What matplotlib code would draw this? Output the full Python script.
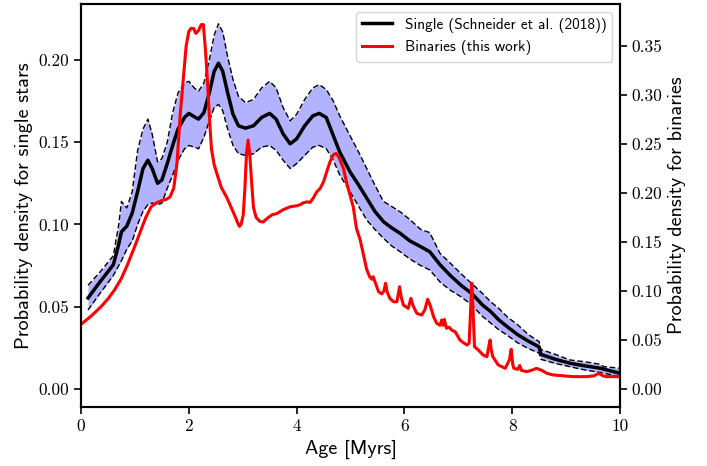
import matplotlib
matplotlib.use("Agg")
import matplotlib.pyplot as plt
import numpy as np

# ---- Single stars (Schneider et al. 2018): age, mean, upper, lower ----
age_single = [0.13, 0.35, 0.60, 0.70, 0.75, 0.85, 0.95, 1.05, 1.15, 1.24, 1.32, 1.42, 1.50,
              1.60, 1.70, 1.80, 1.92, 2.00, 2.10, 2.18, 2.28, 2.38, 2.47, 2.55, 2.63, 2.72,
              2.82, 2.92, 3.05, 3.20, 3.35, 3.50, 3.62, 3.75, 3.88, 4.00, 4.15, 4.30, 4.42,
              4.55, 4.68, 4.80, 4.99, 5.15, 5.30, 5.45, 5.61, 5.76, 5.92, 6.10, 6.30, 6.47,
              6.66, 6.85, 7.05, 7.25, 7.45, 7.60, 7.75, 7.90, 8.10, 8.30, 8.50, 8.53, 8.80,
              9.07, 9.35, 9.63, 9.70, 10.0]
single_mean = [0.0553, 0.065, 0.0755, 0.088, 0.0955, 0.099, 0.107, 0.120, 0.134, 0.139, 0.134,
               0.125, 0.127, 0.137, 0.148, 0.158, 0.165, 0.1675, 0.1655, 0.164, 0.168, 0.180,
               0.193, 0.198, 0.193, 0.180, 0.167, 0.160, 0.1585, 0.160, 0.165, 0.1675, 0.164,
               0.155, 0.149, 0.152, 0.160, 0.166, 0.1675, 0.165, 0.154, 0.144, 0.132, 0.124,
               0.116, 0.108, 0.1017, 0.098, 0.0946, 0.090, 0.0865, 0.0834, 0.0755, 0.069,
               0.063, 0.058, 0.051, 0.047, 0.042, 0.038, 0.033, 0.029, 0.0255, 0.021, 0.018,
               0.0156, 0.014, 0.0126, 0.012, 0.0095]
single_upper = [0.063, 0.071, 0.081, 0.100, 0.114, 0.110, 0.120, 0.145, 0.158, 0.164, 0.155,
                0.138, 0.140, 0.150, 0.168, 0.180, 0.186, 0.187, 0.183, 0.181, 0.186, 0.200,
                0.215, 0.222, 0.217, 0.202, 0.188, 0.178, 0.174, 0.176, 0.183, 0.187, 0.183,
                0.171, 0.163, 0.167, 0.176, 0.183, 0.185, 0.182, 0.175, 0.166, 0.154, 0.144,
                0.134, 0.124, 0.114, 0.111, 0.1077, 0.103, 0.097, 0.0950, 0.0824, 0.0765,
                0.070, 0.064, 0.058, 0.053, 0.049, 0.044, 0.039, 0.033, 0.0287, 0.024, 0.021,
                0.0176, 0.0165, 0.015, 0.0135, 0.0126]
single_lower = [0.048, 0.058, 0.069, 0.075, 0.078, 0.085, 0.090, 0.100, 0.108, 0.112, 0.113,
                0.112, 0.113, 0.122, 0.130, 0.139, 0.146, 0.148, 0.147, 0.146, 0.153, 0.163,
                0.171, 0.173, 0.169, 0.158, 0.148, 0.143, 0.142, 0.143, 0.147, 0.148, 0.145,
                0.139, 0.134, 0.137, 0.142, 0.147, 0.148, 0.146, 0.139, 0.130, 0.120, 0.111,
                0.1027, 0.097, 0.0916, 0.087, 0.0834, 0.079, 0.075, 0.0723, 0.065, 0.060,
                0.056, 0.051, 0.044, 0.040, 0.036, 0.0328, 0.028, 0.0245, 0.0217, 0.018,
                0.0155, 0.0135, 0.0115, 0.0100, 0.0095, 0.0075]

# ---- Binaries (this work) ----
age_bin = [0.0, 0.2, 0.37, 0.5, 0.62, 0.75, 0.87, 1.0, 1.11, 1.2, 1.30, 1.40, 1.48, 1.58, 1.65,
           1.72, 1.78, 1.84, 1.90, 1.95, 2.00, 2.04, 2.09, 2.13, 2.18, 2.23, 2.27, 2.31, 2.35,
           2.39, 2.42, 2.47, 2.52, 2.60, 2.70, 2.78, 2.86, 2.91, 2.94, 2.97, 3.01, 3.04, 3.07,
           3.10, 3.13, 3.16, 3.20, 3.25, 3.32, 3.38, 3.45, 3.55, 3.63, 3.75, 3.88, 4.0, 4.06,
           4.12, 4.19, 4.25, 4.31, 4.37, 4.44, 4.50, 4.56, 4.62, 4.68, 4.73, 4.78, 4.87, 4.93,
           4.99, 5.05, 5.11, 5.18, 5.24, 5.30, 5.36, 5.40, 5.42, 5.45, 5.52, 5.58, 5.62, 5.65,
           5.68, 5.73, 5.80, 5.86, 5.91, 5.94, 5.98, 6.07, 6.12, 6.16, 6.23, 6.32, 6.38, 6.43,
           6.48, 6.54, 6.60, 6.66, 6.69, 6.72, 6.74, 6.78, 6.83, 6.88, 6.94, 7.03, 7.10, 7.16,
           7.20, 7.23, 7.25, 7.27, 7.30, 7.37, 7.46, 7.53, 7.57, 7.59, 7.61, 7.64, 7.74, 7.87,
           7.95, 7.98, 8.01, 8.03, 8.10, 8.14, 8.17, 8.27, 8.38, 8.45, 8.55, 8.64, 8.76, 9.13,
           9.38, 9.52, 9.60, 9.68, 9.75, 10.0]
binary_pdf = [0.066, 0.075, 0.084, 0.092, 0.101, 0.113, 0.128, 0.146, 0.162, 0.175, 0.186, 0.190,
              0.192, 0.1935, 0.196, 0.205, 0.230, 0.280, 0.318, 0.350, 0.365, 0.368, 0.368, 0.363,
              0.366, 0.372, 0.372, 0.345, 0.310, 0.270, 0.245, 0.229, 0.220, 0.206, 0.196, 0.186,
              0.176, 0.169, 0.166, 0.168, 0.178, 0.205, 0.240, 0.254, 0.240, 0.215, 0.185, 0.175,
              0.171, 0.1705, 0.174, 0.178, 0.179, 0.183, 0.186, 0.187, 0.188, 0.190, 0.191,
              0.1905, 0.195, 0.201, 0.205, 0.2116, 0.222, 0.232, 0.239, 0.2405, 0.237, 0.225,
              0.210, 0.198, 0.186, 0.164, 0.152, 0.137, 0.122, 0.114, 0.112, 0.1146, 0.110,
              0.0993, 0.097, 0.100, 0.108, 0.099, 0.0925, 0.089, 0.089, 0.1044, 0.094, 0.0857,
              0.0823, 0.0925, 0.085, 0.0772, 0.0755, 0.081, 0.0915, 0.085, 0.0738, 0.067, 0.065,
              0.0704, 0.065, 0.071, 0.062, 0.063, 0.060, 0.0585, 0.050, 0.047, 0.0449, 0.0466,
              0.085, 0.108, 0.085, 0.0432, 0.0398, 0.0347, 0.033, 0.045, 0.050, 0.040, 0.033,
              0.0245, 0.0211, 0.030, 0.0405, 0.025, 0.0211, 0.020, 0.024, 0.019, 0.0177, 0.0195,
              0.0211, 0.019, 0.016, 0.0143, 0.0126, 0.0126, 0.0135, 0.016, 0.0135, 0.0126, 0.0126]

left_ticks = [0.00, 0.05, 0.10, 0.15, 0.20]
right_ticks = [0.00, 0.05, 0.10, 0.15, 0.20, 0.25, 0.30, 0.35]
x_ticks = [0, 2, 4, 6, 8, 10]

SANS = "cmss10"
SERIF = "cmr10"

fig = plt.figure(figsize=(7.07, 4.66), dpi=100)
ax = fig.add_axes([0.1146, 0.1266, 0.7624, 0.8648])
ax2 = ax.twinx()

ax.fill_between(age_single, single_lower, single_upper, color="blue", alpha=0.3, lw=0)
ax.plot(age_single, single_upper, color="black", ls=(0, (4, 2)), lw=1)
ax.plot(age_single, single_lower, color="black", ls=(0, (4, 2)), lw=1)
l1, = ax.plot(age_single, single_mean, color="black", lw=2.5, label="Single (Schneider et al. (2018))")
l2, = ax2.plot(age_bin, binary_pdf, color="red", lw=2.2, label="Binaries (this work)")

ax.set_xlim(0, 10)
ax.set_ylim(-0.011, 0.234)
ax2.set_ylim(-0.0184, 0.393)

ax.set_xticks(x_ticks)
ax.set_xticklabels([str(t) for t in x_ticks], fontfamily=SERIF, fontsize=12.5)
ax.set_yticks(left_ticks)
ax.set_yticklabels([f"{t:.2f}" for t in left_ticks], fontfamily=SERIF, fontsize=12.5)
ax2.set_yticks(right_ticks)
ax2.set_yticklabels([f"{t:.2f}" for t in right_ticks], fontfamily=SERIF, fontsize=12.5)

for a in (ax, ax2):
    for s in a.spines.values():
        s.set_linewidth(1.5)
    a.tick_params(width=1.2, length=5)

ax.set_xlabel("Age [Myrs]", fontfamily=SANS, fontsize=14.5)
ax.set_ylabel("Probability density for single stars", fontfamily=SANS, fontsize=14.5)
ax2.set_ylabel("Probability density for binaries", fontfamily=SANS, fontsize=14.5)

leg = ax2.legend([l1, l2], [l1.get_label(), l2.get_label()], loc="upper right",
                 prop={"family": SANS, "size": 11}, framealpha=0.8, fancybox=True)

fig.savefig("out.png", dpi=100)
